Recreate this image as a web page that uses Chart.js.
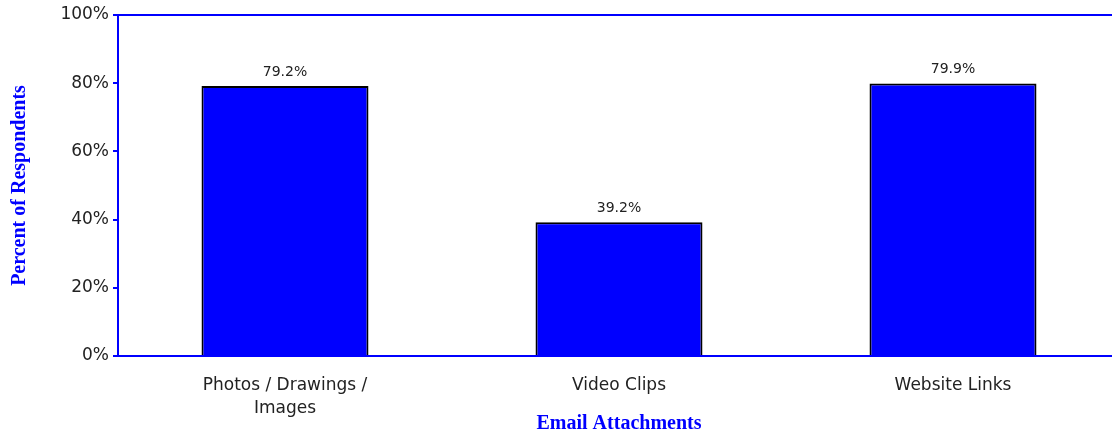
<!DOCTYPE html>
<html><head><meta charset="utf-8">
<style>html,body{margin:0;padding:0;background:#fff;overflow:hidden;}#wrap{width:1112px;height:431px;overflow:hidden;}</style>
<script src="https://cdn.jsdelivr.net/npm/chart.js@4/dist/chart.umd.min.js"></script>
</head><body><div id="wrap"><canvas id="c" width="1120" height="431"></canvas></div>
<script>
const categories = [["Photos / Drawings /", "Images"], "Video Clips", "Website Links"];
const percentValues = [79.2, 39.2, 79.9];
const yTickValues = [0, 20, 40, 60, 80, 100];
const xTitle = "Email Attachments";
const yTitle = "Percent of Respondents";
const BLUE = "#0000ff";

const valueLabels = {
  id: "valueLabels",
  afterDatasetsDraw(chart) {
    const ctx = chart.ctx;
    const meta = chart.getDatasetMeta(0);
    ctx.save();
    ctx.font = "14px 'DejaVu Sans'";
    ctx.fillStyle = "#222";
    ctx.textAlign = "center";
    ctx.textBaseline = "bottom";
    meta.data.forEach((bar, i) => {
      ctx.fillText(percentValues[i].toFixed(1) + "%", bar.x, bar.y - 7);
    });
    ctx.restore();
  }
};

new Chart(document.getElementById("c"), {
  type: "bar",
  data: {
    labels: categories,
    datasets: [{
      data: percentValues,
      backgroundColor: BLUE,
      borderColor: "#000",
      borderWidth: 2,
      barPercentage: 0.5,
      categoryPercentage: 1.0
    }]
  },
  options: {
    responsive: false,
    animation: false,
    layout: { padding: { top: 15, right: 0, left: 0, bottom: 0 } },
    plugins: { legend: { display: false }, tooltip: { enabled: false } },
    scales: {
      x: {
        grid: { display: false },
        border: { color: BLUE, width: 2 },
        ticks: { color: "#222", font: { family: "DejaVu Sans", size: 17, lineHeight: 1.35 }, padding: 10, maxRotation: 0 },
        title: { display: true, text: xTitle, color: BLUE, font: { family: "Liberation Serif", size: 20, weight: "bold", lineHeight: 1 }, padding: { top: 0, bottom: -3 } },
        afterFit(scale) { scale.height = 75; }
      },
      y: {
        min: 0, max: 100,
        afterBuildTicks(scale) { scale.ticks = yTickValues.map(v => ({ value: v })); },
        grid: {
          drawOnChartArea: true,
          color: c => (c.tick && c.tick.value === 100 ? BLUE : "rgba(0,0,0,0)"),
          tickColor: BLUE,
          tickLength: 5,
          lineWidth: 2
        },
        border: { color: BLUE, width: 2 },
        ticks: { color: "#222", font: { family: "DejaVu Sans", size: 17 }, padding: 4, callback: v => v + "%" },
        title: { display: true, text: yTitle, color: BLUE, font: { family: "Liberation Serif", size: 20, weight: "bold" }, padding: { top: 8, bottom: 0 } },
        afterFit(scale) { scale.width = 118; }
      }
    }
  },
  plugins: [valueLabels]
});
</script></body></html>
